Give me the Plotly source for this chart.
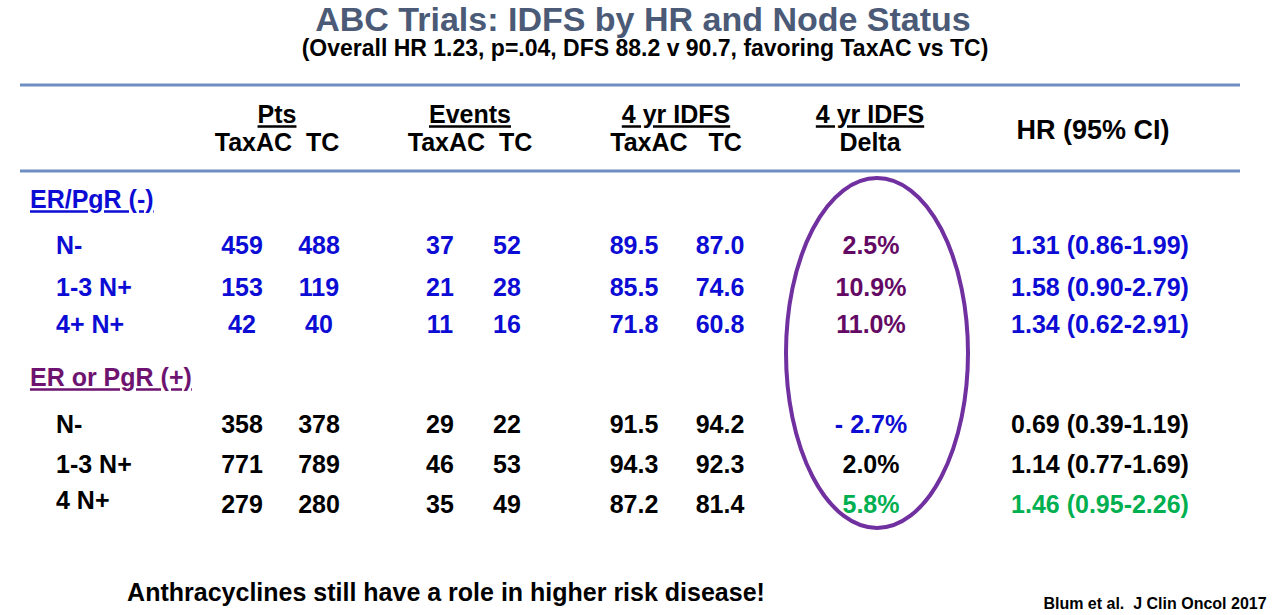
import plotly.graph_objects as go

# ---------------- data ----------------
title = "ABC Trials: IDFS by HR and Node Status"
subtitle = "(Overall HR 1.23, p=.04, DFS 88.2 v 90.7, favoring TaxAC vs TC)"
footnote = "Anthracyclines still have a role in higher risk disease!"
source = "Blum et al.  J Clin Oncol 2017"

groups = ["ER/PgR (-)", "ER or PgR (+)"]
row_labels = ["N-", "1-3 N+", "4+ N+", "N-", "1-3 N+", "4 N+"]
row_group = [0, 0, 0, 1, 1, 1]
pts_taxac = [459, 153, 42, 358, 771, 279]
pts_tc = [488, 119, 40, 378, 789, 280]
events_taxac = [37, 21, 11, 29, 46, 35]
events_tc = [52, 28, 16, 22, 53, 49]
idfs_taxac = [89.5, 85.5, 71.8, 91.5, 94.3, 87.2]
idfs_tc = [87.0, 74.6, 60.8, 94.2, 92.3, 81.4]
delta = ["2.5%", "10.9%", "11.0%", "- 2.7%", "2.0%", "5.8%"]
hr = [1.31, 1.58, 1.34, 0.69, 1.14, 1.46]
ci_low = [0.86, 0.90, 0.62, 0.39, 0.77, 0.95]
ci_high = [1.99, 2.79, 2.91, 1.19, 1.69, 2.26]

col_headers = ["<u>Pts</u>", "<u>Events</u>", "<u>4 yr IDFS</u>", "<u>4 yr IDFS</u>"]
col_subheaders = ["TaxAC  TC", "TaxAC  TC", "TaxAC   TC", "Delta"]
hr_header = "HR (95% CI)"

# ---------------- layout constants ----------------
BLUE = "#0c0cd4"
PURPLE = "#640a64"
GPURPLE = "#6e1470"
GREEN = "#00b050"
BLACK = "#000000"
FONT = "Liberation Sans, Arial, sans-serif"
FS = 25
DY = 2  # vertical text nudge

row_y = [246, 288, 325, 425, 465, 505]
label_y_adj = [0, 0, 0, 0, 0, -4]
group_y = [200, 378]
header_x = [277, 470, 676, 870]

row_color = [BLUE if g == 0 else BLACK for g in row_group]
delta_color = [PURPLE, PURPLE, PURPLE, BLUE, BLACK, GREEN]
hr_color = [BLUE, BLUE, BLUE, BLACK, BLACK, GREEN]
group_color = [BLUE, GPURPLE]

fig = go.Figure()


def text_trace(xs, ys, texts, colors, size=FS, pos="middle center", family=FONT):
    fig.add_trace(go.Scatter(
        x=xs, y=[y + DY for y in ys], text=[f"<b>{t}</b>" for t in texts], mode="text",
        textposition=pos, hoverinfo="skip", showlegend=False, cliponaxis=False,
        textfont=dict(family=family, size=size, color=colors),
    ))


# headers
text_trace(header_x, [115] * 4, col_headers, [BLACK] * 4)
text_trace(header_x, [143] * 4, col_subheaders, [BLACK] * 4)
text_trace([1093], [130], [hr_header], [BLACK], size=27)

# group labels
text_trace([30, 30], group_y, [f"<u>{g}</u>" for g in groups], group_color, pos="middle right")

# row labels
text_trace([56] * 6, [y + a for y, a in zip(row_y, label_y_adj)], row_labels, row_color, pos="middle right")

# numeric columns
text_trace([242] * 6, row_y, [str(v) for v in pts_taxac], row_color)
text_trace([319] * 6, row_y, [str(v) for v in pts_tc], row_color)
text_trace([440] * 6, row_y, [str(v) for v in events_taxac], row_color)
text_trace([507] * 6, row_y, [str(v) for v in events_tc], row_color)
text_trace([634] * 6, row_y, [f"{v:.1f}" for v in idfs_taxac], row_color)
text_trace([720] * 6, row_y, [f"{v:.1f}" for v in idfs_tc], row_color)
text_trace([871] * 6, row_y, delta, delta_color)
text_trace([1100] * 6, row_y,
           [f"{h:.2f} ({l:.2f}-{u:.2f})" for h, l, u in zip(hr, ci_low, ci_high)], hr_color)

# title / subtitle / footnote
text_trace([643], [20], [title], ["#4b5a76"], size=34)
text_trace([645], [48], [subtitle], [BLACK], size=23)
text_trace([446], [593], [footnote], [BLACK], size=25)
text_trace([1155], [603], [source], [BLACK], size=16)

# rules and ellipse
for y in [85, 171]:
    fig.add_shape(type="line", x0=20, x1=1240, y0=y, y1=y, xref="x", yref="y",
                  line=dict(color="#6f8fc2", width=3))
fig.add_shape(type="circle", x0=786, x1=968, y0=178, y1=528, xref="x", yref="y",
              line=dict(color="#7030a0", width=4))

fig.update_layout(
    width=1275, height=615, margin=dict(l=0, r=0, t=0, b=0),
    paper_bgcolor="white", plot_bgcolor="white",
    xaxis=dict(range=[0, 1275], visible=False, fixedrange=True),
    yaxis=dict(range=[615, 0], visible=False, fixedrange=True),
)
# remove the default 8px page margin so the figure sits at the window origin
fig.write_html("out.html", config={"displayModeBar": False},
               post_script="document.body.style.margin='0';")
